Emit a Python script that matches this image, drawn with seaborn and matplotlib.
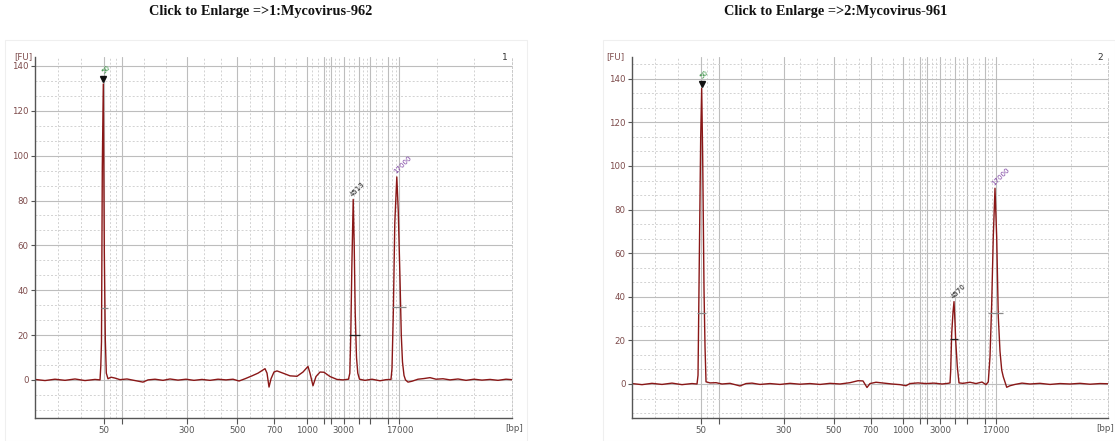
import numpy as np
import pandas as pd
import matplotlib
matplotlib.use("Agg")
import matplotlib.pyplot as plt
from matplotlib.patches import Rectangle
from matplotlib.ticker import MultipleLocator
import seaborn as sns

# ---------------------------------------------------------------- data
# Migration position (0-100 across the run window) of the size-standard peaks
ladder_bp = [50, 100, 300, 500, 700, 1000, 1500, 2000, 3000, 4000, 5000, 10000, 17000]
ladder_pos = [14.5, 18.34, 31.87, 42.45, 50.2, 57.0, 60.5, 62.05, 64.7, 67.9, 70.3, 74.1, 76.4]
labelled_bp = [50, 300, 500, 700, 1000, 3000, 17000]

# Sample 1: Mycovirus-962 electropherogram (position, fluorescence units)
s1_pos = [0.0, 2.1, 4.19, 6.29, 8.39, 10.48, 12.58, 13.63, 13.79, 13.94, 14.11, 14.32,
          14.53, 14.74, 14.95, 15.30, 15.93, 16.77, 17.82, 19.29, 20.96, 22.64, 23.69,
          25.16, 26.83, 28.30, 29.98, 31.66, 33.33, 35.01, 36.69, 38.36, 40.04, 41.51,
          42.77, 44.03, 45.49, 46.75, 48.22, 48.64, 49.06, 49.48, 50.10, 50.73, 51.99,
          53.46, 54.93, 56.18, 57.23, 57.65, 58.28, 58.91, 59.75, 60.59, 61.84, 63.31,
          64.57, 65.72, 66.0, 66.2, 66.42, 66.71, 66.92, 67.13, 67.4, 67.67, 68.03,
          69.18, 70.65, 72.33, 73.58, 74.63, 74.84, 75.12, 75.43, 75.85, 76.16, 76.52,
          76.79, 77.04, 77.36, 77.67, 78.2, 79.04, 80.29, 81.55, 82.81, 84.07, 85.53,
          87.0, 88.68, 90.36, 92.03, 93.71, 95.39, 97.06, 98.74, 100.0]
s1_fu = [0.2, -0.3, 0.3, -0.2, 0.4, -0.3, 0.2, 0.0, 6, 17, 95, 132,
         57, 18, 3, 0.5, 1.2, 0.8, 0.1, 0.4, -0.3, -1.0, 0.0,
         0.3, -0.2, 0.4, -0.1, 0.3, -0.2, 0.2, -0.2, 0.3, 0.0, 0.3,
         -0.5, 0.5, 1.8, 3.0, 5.0, 3.0, -3.2, 0.5, 3.5, 4.0, 3.0,
         1.8, 1.6, 3.5, 6.0, 3.0, -2.6, 1.5, 3.5, 3.4, 1.5, 0.2,
         0.0, 0.3, 3, 20, 50, 80.5, 60, 30, 10, 3, 0.3,
         -0.2, 0.3, -0.4, 0.1, 0.2, 5, 30, 70, 90.5, 75, 45,
         20, 8, 2, 0.0, -1.0, -0.6, 0.3, 0.6, 1.0, 0.3, 0.5,
         0.0, 0.4, -0.2, 0.3, -0.1, 0.2, -0.2, 0.3, 0.1]

# Sample 2: Mycovirus-961 electropherogram
s2_pos = [0.0, 2.1, 4.2, 6.3, 8.4, 10.5, 12.6, 13.66, 13.87, 14.14, 14.43, 14.64,
          14.85, 15.13, 15.34, 15.55, 16.39, 17.65, 18.91, 20.59, 22.69, 23.95, 25.21,
          26.89, 28.99, 31.09, 33.19, 35.29, 37.39, 39.5, 41.6, 43.7, 45.8, 47.48,
          48.53, 49.37, 50.0, 51.26, 52.94, 54.62, 56.3, 57.56, 58.4, 60.08, 61.76,
          63.45, 65.13, 66.39, 66.81, 66.95, 67.16, 67.44, 67.65, 67.86, 68.0, 68.34,
          68.7, 69.54, 71.01, 72.27, 73.53, 74.37, 74.85, 75.21, 75.57, 75.9, 76.26,
          76.62, 76.95, 77.31, 77.67, 78.0, 78.72, 79.41, 80.46, 81.93, 83.61, 85.71,
          87.82, 89.92, 92.02, 94.12, 96.22, 98.32, 100.0]
s2_fu = [0.2, -0.3, 0.3, -0.2, 0.4, -0.3, 0.2, 0.0, 4, 57, 113, 135.6,
         104, 43, 17, 1, 0.5, 0.6, 0.0, 0.3, -0.9, 0.2, 0.4,
         -0.2, 0.2, -0.2, 0.3, -0.1, 0.2, -0.2, 0.3, 0.0, 0.6, 1.5,
         1.4, -1.6, 0.2, 0.8, 0.4, 0.0, -0.3, -0.8, 0.2, 0.5, 0.2,
         0.4, 0.0, 0.3, 0.5, 6, 23, 33, 37.8, 28, 20, 8,
         0.5, 0.3, 0.8, 0.2, 0.9, -0.3, 1, 12.5, 37, 67.6, 89.8,
         67, 31, 15, 6.4, 3.3, -1.5, -0.8, -0.2, 0.4, 0.0, 0.3,
         -0.2, 0.2, 0.0, 0.3, -0.1, 0.2, 0.1]

# Called peaks: position, height, label
s1_peak_pos = [14.32, 66.71, 75.85]
s1_peak_fu = [132, 80.5, 90.5]
s1_peak_lab = ["50", "4513", "17000"]
s2_peak_pos = [14.64, 67.65, 76.26]
s2_peak_fu = [135.6, 37.8, 89.8]
s2_peak_lab = ["50", "4570", "17000"]

# Peak-width bars (level, start, end)
s1_bar_fu = [32, 20, 32.5]
s1_bar_lo = [13.8, 65.9, 74.8]
s1_bar_hi = [15.3, 68.1, 77.8]
s2_bar_fu = [32.5, 20.5, 32.5]
s2_bar_lo = [13.76, 66.8, 74.85]
s2_bar_hi = [15.55, 68.5, 78.0]

titles = ["Click to Enlarge =>1:Mycovirus-962", "Click to Enlarge =>2:Mycovirus-961"]
well_ids = ["1", "2"]
y_limits = [(-17, 144), (-15.6, 150)]

# ---------------------------------------------------------------- style
sns.set_theme(style="white")
plt.rcParams["font.family"] = ["DejaVu Sans"]

trace_color = "#8a1717"
ylab_color = "#7d4b4b"
xlab_color = "#555555"
label_colors = ["#2e8b3a", "#111111", "#7b3fa0"]
bar_colors = ["#8a8a8a", "#222222", "#8a8a8a"]

fig = plt.figure(figsize=(11.15, 4.41), dpi=100)
fig.patch.set_facecolor("white")

# faint frames around the two instrument panels
for x0, w in [(5, 522), (603, 512)]:
    fig.patches.append(Rectangle((x0 / 1115, 0.0), w / 1115, 401 / 441,
                                 transform=fig.transFigure, facecolor="none",
                                 edgecolor="#efefef", linewidth=0.8, zorder=0))

axes_rects = [[35 / 1115, 23 / 441, 477 / 1115, 361 / 441],
              [632 / 1115, 23 / 441, 476 / 1115, 361 / 441]]
fu_label_x = [-0.024, -0.035]
bp_label_x = [1.0 + 11 / 477, 1.0 + 6 / 476]

samples = [
    (s1_pos, s1_fu, s1_peak_pos, s1_peak_fu, s1_peak_lab, s1_bar_fu, s1_bar_lo, s1_bar_hi),
    (s2_pos, s2_fu, s2_peak_pos, s2_peak_fu, s2_peak_lab, s2_bar_fu, s2_bar_lo, s2_bar_hi),
]


def thirds(edges):
    out = []
    for a, b in zip(edges[:-1], edges[1:]):
        out += [a + (b - a) / 3, a + 2 * (b - a) / 3]
    return out


for i, (rect, smp) in enumerate(zip(axes_rects, samples)):
    pos, fu, ppos, pfu, plab, bfu, blo, bhi = smp
    ax = fig.add_axes(rect)
    ax.set_facecolor("white")
    ymin, ymax = y_limits[i]
    ax.set_xlim(0, 100)

    # grid: ladder positions solid, thirds in between dotted
    ax.set_xticks(ladder_pos)
    ax.set_xticklabels([str(b) if b in labelled_bp else "" for b in ladder_bp])
    ax.set_xticks(thirds([0] + ladder_pos + [100]), minor=True)
    yt = [t for t in range(0, int(ymax) + 1, 20)]
    ax.set_yticks(yt)
    ax.set_yticklabels([str(t) for t in yt])
    ax.yaxis.set_minor_locator(MultipleLocator(20 / 3))
    ax.set_ylim(ymin, ymax)
    ax.grid(which="major", color="#bdbdbd", linewidth=0.8, linestyle="-")
    ax.grid(which="minor", color="#d2d2d2", linewidth=0.7, linestyle=(0, (2, 2)))
    ax.set_axisbelow(True)

    ax.tick_params(axis="both", which="minor", length=0)
    ax.tick_params(axis="x", which="major", length=4, width=0.8, color="#555555",
                   labelsize=6.2, labelcolor=xlab_color, pad=2, direction="out",
                   bottom=True)
    ax.tick_params(axis="y", which="major", length=3, width=0.8, color="#555555",
                   labelsize=6.2, labelcolor=ylab_color, pad=1.5, direction="out",
                   left=True)

    for side in ["left", "bottom"]:
        ax.spines[side].set_color("#555555")
        ax.spines[side].set_linewidth(1.0)
    ax.spines["top"].set_visible(False)
    ax.spines["right"].set_color("#c8c8c8")
    ax.spines["right"].set_linestyle((0, (2, 2)))
    ax.spines["right"].set_linewidth(0.7)

    # trace
    df = pd.DataFrame({"pos": pos, "FU": fu})
    sns.lineplot(data=df, x="pos", y="FU", ax=ax, color=trace_color,
                 linewidth=1.0, sort=False, estimator=None)
    ax.set_xlabel("")
    ax.set_ylabel("")

    # peak-width bars
    for lev, a, b, c in zip(bfu, blo, bhi, bar_colors):
        ax.hlines(lev, a, b, color=c, linewidth=0.9, zorder=4)

    # peak labels and lower-marker flag
    for k, (px, py, lab) in enumerate(zip(ppos, pfu, plab)):
        if k == 0:
            ax.plot([px], [py + 2.2], marker="v", color="#111111", markersize=5,
                    linestyle="none", zorder=5)
            ax.text(px - 0.5, py + 4.2, lab, rotation=45, fontsize=5,
                    color=label_colors[k], ha="left", va="bottom", zorder=5)
        else:
            ax.text(px, py + 0.8, lab, rotation=45, fontsize=5,
                    color=label_colors[k], ha="left", va="bottom",
                    rotation_mode="anchor", zorder=5)

    # corner annotations
    ax.text(fu_label_x[i], 1.0, "[FU]", transform=ax.transAxes, fontsize=6.2,
            color=ylab_color, ha="center", va="center")
    ax.text(0.99, 1.0, well_ids[i], transform=ax.transAxes, fontsize=6.5,
            color="#333333", ha="right", va="center")
    ax.text(bp_label_x[i], -0.03, "[bp]", transform=ax.transAxes, fontsize=6.2,
            color=xlab_color, ha="right", va="center")

for cx, t in zip([261 / 1115, 836 / 1115], titles):
    fig.text(cx, 1 - 12 / 441, t, ha="center", va="center", fontsize=10.3,
             fontweight="bold", family=["Liberation Serif", "DejaVu Serif"],
             color="#111111")

fig.savefig("out.png", dpi=100, facecolor="white")
